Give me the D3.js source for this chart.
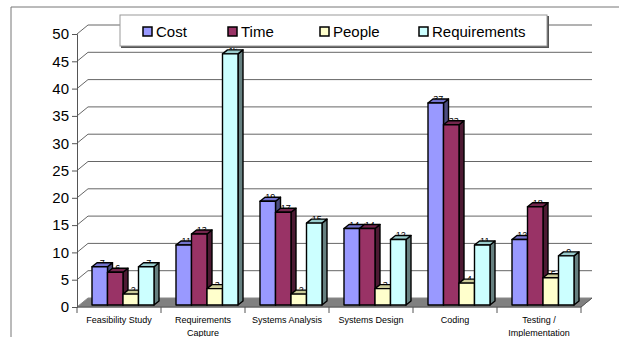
<html>
<head>
<style>
  body { margin: 0; background: #fff; }
  svg { display: block; font-family: "Liberation Sans", Arial, sans-serif; }
</style>
</head>
<body>
<script src="https://d3js.org/d3.v7.min.js"></script>
<script>
    var categories = ["Feasibility Study", "Requirements\nCapture", "Systems Analysis", "Systems Design", "Coding", "Testing /\nImplementation"];
    var series = ["Cost", "Time", "People", "Requirements"];
    var cost = [7, 11, 19, 14, 37, 12];
    var time = [6, 13, 17, 14, 33, 18];
    var people = [2, 3, 2, 3, 4, 5];
    var requirements = [7, 46, 15, 12, 11, 9];
    var yTicks = [0, 5, 10, 15, 20, 25, 30, 35, 40, 45, 50];

    var values = [cost, time, people, requirements];
    var fills = ["#9999ff", "#993366", "#ffffcc", "#ccffff"];
    var sides = ["#4d4d80", "#4d1a33", "#808066", "#668080"];
    var tops = ["#7373cc", "#73264d", "#cccc99", "#99cccc"];

    var width = 619, height = 337;
    var dx = 11, dy = -9;      // depth of the floor / walls
    var bdx = 5, bdy = -4;     // depth of each bar

    var svg = d3.select("body").append("svg")
        .attr("width", width)
        .attr("height", height);

    // outer frame
    svg.append("path")
        .attr("d", "M11," + height + "V7H" + width)
        .attr("fill", "none")
        .attr("stroke", "#777")
        .attr("stroke-width", 1);

    var x0 = d3.scaleBand().domain(categories).range([77, 581]);
    var x1 = d3.scaleBand().domain(series).range([0, 62]);
    var y = d3.scaleLinear().domain([0, 50]).range([307, 34]);
    var base = 305;

    var left = 77, right = 581, bottom = y(0), top = y(50);

    // back wall
    svg.append("rect")
        .attr("x", left + dx).attr("y", top + dy)
        .attr("width", right - left).attr("height", bottom - top)
        .attr("fill", "#c0c0c0").attr("stroke", "#888");
    // left wall
    svg.append("polygon")
        .attr("points", [[left, bottom], [left, top], [left + dx, top + dy], [left + dx, bottom + dy]].join(" "))
        .attr("fill", "#c0c0c0").attr("stroke", "#888");
    // floor
    svg.append("polygon")
        .attr("points", [[left, bottom], [right, bottom], [right + dx, bottom + dy], [left + dx, bottom + dy]].join(" "))
        .attr("fill", "#808080").attr("stroke", "#888");

    // gridlines
    var grid = svg.append("g");
    yTicks.slice(1).forEach(function(t) {
        grid.append("path")
            .attr("d", "M" + left + "," + y(t) + "L" + (left + dx) + "," + (y(t) + dy) + "H" + (right + dx))
            .attr("fill", "none").attr("stroke", "#666").attr("stroke-width", 1);
    });

    // y axis
    svg.append("g")
        .attr("transform", "translate(" + left + ",0)")
        .call(d3.axisLeft(y).tickValues(yTicks).tickSize(5).tickPadding(3))
        .call(function(g) {
            g.select(".domain").attr("stroke", "#555");
            g.selectAll(".tick line").attr("stroke", "#555");
            g.selectAll("text").attr("font-size", 15).attr("fill", "#000")
                .attr("font-family", "Liberation Sans, Arial, sans-serif");
        });

    // x axis
    svg.append("path")
        .attr("d", "M" + left + "," + bottom + "H" + right + "L" + (right + dx) + "," + (bottom + dy))
        .attr("fill", "none").attr("stroke", "#555");
    x0.domain().concat(["end"]).forEach(function(c, i) {
        var xx = i < categories.length ? x0(c) : right;
        svg.append("line")
            .attr("x1", xx).attr("x2", xx).attr("y1", bottom).attr("y2", bottom + 6)
            .attr("stroke", "#555");
    });
    categories.forEach(function(c) {
        var lines = c.split("\n");
        var t = svg.append("text")
            .attr("x", x0(c) + x0.bandwidth() / 2)
            .attr("y", 323)
            .attr("text-anchor", "middle")
            .attr("font-size", 9)
            .attr("fill", "#000");
        lines.forEach(function(l, i) {
            t.append("tspan").attr("x", x0(c) + x0.bandwidth() / 2).attr("dy", i ? 13 : 0).text(l);
        });
    });

    // data labels (behind the bars)
    var labels = svg.append("g");
    var bars = svg.append("g").attr("stroke", "#000").attr("stroke-width", 1.4).attr("stroke-linejoin", "round");

    categories.forEach(function(c, ci) {
        var gx = x0(c) + 15;
        series.forEach(function(s, si) {
            var v = values[si][ci];
            var bx = gx + x1(s), w = x1.bandwidth();
            var by = y(v) - (bottom - base);
            labels.append("text")
                .attr("x", bx + w / 2 + bdx / 2)
                .attr("y", by - 1)
                .attr("text-anchor", "middle")
                .attr("font-size", 9)
                .attr("fill", "#000")
                .text(v);
            bars.append("polygon")
                .attr("points", [[bx + w, by], [bx + w + bdx, by + bdy], [bx + w + bdx, base + bdy], [bx + w, base]].join(" "))
                .attr("fill", sides[si]);
            bars.append("polygon")
                .attr("points", [[bx, by], [bx + bdx, by + bdy], [bx + w + bdx, by + bdy], [bx + w, by]].join(" "))
                .attr("fill", tops[si]);
            bars.append("rect")
                .attr("x", bx).attr("y", by)
                .attr("width", w).attr("height", base - by)
                .attr("fill", fills[si]);
        });
    });

    // legend
    var legend = svg.append("g");
    legend.append("rect")
        .attr("x", 121).attr("y", 16).attr("width", 428).attr("height", 32)
        .attr("fill", "#555");
    legend.append("rect")
        .attr("x", 120).attr("y", 15).attr("width", 427).attr("height", 31)
        .attr("fill", "#fff").attr("stroke", "#999");
    var legendX = [143, 228, 320, 419];
    series.forEach(function(s, i) {
        legend.append("rect")
            .attr("x", legendX[i]).attr("y", 27).attr("width", 9).attr("height", 9)
            .attr("fill", fills[i]).attr("stroke", "#000").attr("stroke-width", 1.5);
        legend.append("text")
            .attr("x", legendX[i] + 13).attr("y", 37)
            .attr("font-size", 15).attr("fill", "#000")
            .text(s);
    });
</script>
</body>
</html>
